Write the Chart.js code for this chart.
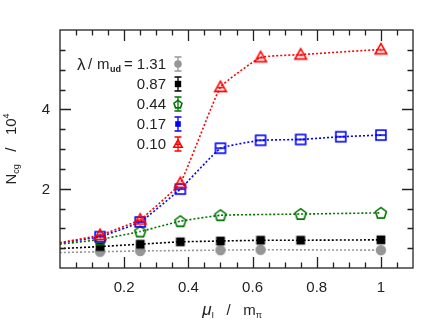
<!DOCTYPE html>
<html>
<head>
<meta charset="utf-8">
<script src="https://cdn.jsdelivr.net/npm/chart.js@4/dist/chart.umd.min.js"></script>
<style>
  body { margin: 0; background: #fff; }
  #wrap { width: 436px; height: 331px; }
</style>
</head>
<body>
<div id="wrap"><canvas id="ncgChart" width="436" height="331"></canvas></div>
<script>
// mu_I / m_pi positions and N_cg / 10^4 values, one pair of arrays per lambda
const lambdaLabels = ['1.31', '0.87', '0.44', '0.17', '0.10'];

const xRed = [0, 0.125, 0.25, 0.375, 0.5, 0.625, 0.75, 1.0];
const yRed = [0.64, 0.83, 1.22, 2.14, 4.56, 5.31, 5.38, 5.51];

const xBlue = [0, 0.125, 0.25, 0.375, 0.5, 0.625, 0.75, 0.875, 1.0];
const yBlue = [0.63, 0.79, 1.16, 1.99, 3.02, 3.22, 3.24, 3.31, 3.35];

const xGreen = [0, 0.125, 0.25, 0.375, 0.5, 0.75, 1.0];
const yGreen = [0.60, 0.72, 0.92, 1.18, 1.33, 1.36, 1.39];

const xBlack = [0, 0.125, 0.25, 0.375, 0.5, 0.625, 0.75, 1.0];
const yBlack = [0.49, 0.54, 0.60, 0.66, 0.68, 0.70, 0.70, 0.71];

const xGray = [0, 0.125, 0.25, 0.5, 0.625, 1.0];
const yGray = [0.39, 0.41, 0.43, 0.45, 0.46, 0.45];

const yTickLabels = ['2', '4'];
const xTickLabels = ['0.2', '0.4', '0.6', '0.8', '1'];

const FONT = '"Liberation Sans", Arial, sans-serif';
const INK = '#222';

function drawMarker(ctx, kind, color, x, y, s) {
    ctx.save();
    ctx.strokeStyle = color;
    ctx.fillStyle = color;
    ctx.lineWidth = 1.6;
    ctx.setLineDash([]);
    const h = s / 2;
    if (kind === 'circle') {
        ctx.beginPath();
        ctx.arc(x, y, h * 0.95, 0, Math.PI * 2);
        ctx.fill();
    } else if (kind === 'square') {
        ctx.fillRect(x - h * 0.8, y - h * 0.8, h * 1.6, h * 1.6);
    } else if (kind === 'pentagon') {
        ctx.beginPath();
        for (let k = 0; k < 5; k++) {
            const a = -Math.PI / 2 + k * 2 * Math.PI / 5;
            const px = x + Math.cos(a) * h * 1.05;
            const py = y + 0.5 + Math.sin(a) * h * 1.05;
            if (k === 0) ctx.moveTo(px, py); else ctx.lineTo(px, py);
        }
        ctx.closePath();
        ctx.stroke();
    } else if (kind === 'boxline') {
        ctx.strokeRect(x - h * 0.9, y - h * 0.9, h * 1.8, h * 1.8);
        ctx.beginPath();
        ctx.moveTo(x - h * 0.9, y);
        ctx.lineTo(x + h * 0.9, y);
        ctx.stroke();
    } else if (kind === 'bluefill') {
        ctx.fillRect(x - h * 0.7, y - h * 0.7, h * 1.4, h * 1.4);
    } else if (kind === 'triangle') {
        ctx.beginPath();
        ctx.moveTo(x, y - h * 1.05);
        ctx.lineTo(x + h * 1.05, y + h * 0.8);
        ctx.lineTo(x - h * 1.05, y + h * 0.8);
        ctx.closePath();
        ctx.stroke();
        ctx.beginPath();
        ctx.moveTo(x - h * 0.5, y + h * 0.1);
        ctx.lineTo(x + h * 0.5, y + h * 0.1);
        ctx.stroke();
    }
    ctx.restore();
}

function markerCanvas(kind, color, s) {
    const c = document.createElement('canvas');
    c.width = 16;
    c.height = 16;
    drawMarker(c.getContext('2d'), kind, color, 8, 8, s);
    return c;
}

const series = [
    { xs: xRed, ys: yRed, color: 'rgb(255,0,0)', kind: 'triangle', legendKind: 'triangle' },
    { xs: xBlue, ys: yBlue, color: 'rgb(0,0,255)', kind: 'boxline', legendKind: 'bluefill' },
    { xs: xGreen, ys: yGreen, color: 'rgb(0,115,0)', kind: 'pentagon', legendKind: 'pentagon' },
    { xs: xBlack, ys: yBlack, color: 'rgb(0,0,0)', kind: 'square', legendKind: 'square' },
    { xs: xGray, ys: yGray, color: 'rgb(150,150,150)', kind: 'circle', legendKind: 'circle' }
];

const datasets = series.map(s => ({
    data: s.xs.map((x, i) => ({ x: x, y: s.ys[i] })),
    borderColor: s.color,
    borderWidth: 1.6,
    borderDash: [2, 2],
    tension: 0.1,
    pointStyle: markerCanvas(s.kind, s.color, 11),
    pointRadius: s.xs.map(x => (x === 0 ? 0 : 5)),
    fill: false
}));

// legend rows: top to bottom is gray, black, green, blue, red
const legendOrder = [4, 3, 2, 1, 0];

const decorPlugin = {
    id: 'decor',
    afterDraw(chart) {
        const ctx = chart.ctx;
        const a = chart.chartArea;
        const xs = chart.scales.x;
        const ys = chart.scales.y;
        ctx.save();
        ctx.strokeStyle = INK;
        ctx.fillStyle = INK;
        ctx.lineWidth = 1.3;
        ctx.setLineDash([]);
        ctx.strokeRect(a.left, a.top, a.right - a.left, a.bottom - a.top);

        // y ticks every 0.5, long at even numbers
        ctx.beginPath();
        for (let i = 1; i < 12; i++) {
            const v = i * 0.5;
            const py = Math.round(ys.getPixelForValue(v)) + 0.5;
            const len = (i % 4 === 0) ? 11 : 5.5;
            ctx.moveTo(a.left, py); ctx.lineTo(a.left + len, py);
            ctx.moveTo(a.right, py); ctx.lineTo(a.right - len, py);
        }
        // x ticks every 0.05, long at multiples of 0.2
        for (let i = 1; i < 22; i++) {
            const v = i * 0.05;
            const px = Math.round(xs.getPixelForValue(v)) + 0.5;
            const len = (i % 4 === 0) ? 11 : 5.5;
            ctx.moveTo(px, a.bottom); ctx.lineTo(px, a.bottom - len);
            ctx.moveTo(px, a.top); ctx.lineTo(px, a.top + len);
        }
        ctx.stroke();

        ctx.font = '15px ' + FONT;
        ctx.textAlign = 'right';
        ctx.textBaseline = 'middle';
        yTickLabels.forEach(t => {
            ctx.fillText(t, a.left - 10, ys.getPixelForValue(parseFloat(t)) + 1);
        });
        ctx.textAlign = 'center';
        ctx.textBaseline = 'alphabetic';
        xTickLabels.forEach(t => {
            ctx.fillText(t, xs.getPixelForValue(parseFloat(t)), 292);
        });

        // x title: mu_I / m_pi
        const big = '15px ' + FONT;
        const small = '9px ' + FONT;
        const parts = [
            { t: 'μ', f: 'italic 17px ' + FONT, dy: 0 },
            { t: 'I', f: small, dy: 3 },
            { t: '   /   ', f: big, dy: 0 },
            { t: 'm', f: big, dy: 0 },
            { t: 'π', f: small, dy: 3 }
        ];
        drawParts(ctx, parts, 232, 315);

        // y title: N_cg / 10^4, rotated
        ctx.save();
        ctx.translate(16, (a.top + a.bottom) / 2);
        ctx.rotate(-Math.PI / 2);
        const yparts = [
            { t: 'N', f: big, dy: 0 },
            { t: 'cg', f: small, dy: 3 },
            { t: '   /   10', f: big, dy: 0 },
            { t: '4', f: small, dy: -7 }
        ];
        drawParts(ctx, yparts, 0, 0);
        ctx.restore();

        // legend
        const numRight = 166;
        const markX = 178;
        legendOrder.forEach((si, row) => {
            const cy = 64 + row * 20;
            const s = series[si];
            ctx.font = big;
            ctx.textAlign = 'right';
            ctx.textBaseline = 'middle';
            ctx.fillStyle = INK;
            const label = lambdaLabels[row];
            ctx.fillText(label, numRight, cy + 1);
            if (row === 0) {
                ctx.textAlign = 'left';
                ctx.font = '17px ' + FONT;
                ctx.fillText('λ', 77, cy + 1);
                ctx.font = big;
                ctx.fillText('/', 88, cy + 1);
                ctx.fillText('m', 97, cy + 1);
                ctx.font = 'bold 9px ' + FONT;
                ctx.fillText('ud', 110, cy + 6);
                ctx.font = big;
                ctx.fillText('=', 124, cy + 1);
            }
            // error bar glyph
            ctx.strokeStyle = s.color;
            ctx.lineWidth = 1.3;
            ctx.beginPath();
            ctx.moveTo(markX, cy - 7); ctx.lineTo(markX, cy + 7);
            ctx.moveTo(markX - 3.5, cy - 7); ctx.lineTo(markX + 3.5, cy - 7);
            ctx.moveTo(markX - 3.5, cy + 7); ctx.lineTo(markX + 3.5, cy + 7);
            ctx.stroke();
            drawMarker(ctx, s.legendKind, s.color, markX, cy, 8);
        });
        ctx.restore();
    }
};

function drawParts(ctx, parts, cx, baseY) {
    ctx.textAlign = 'left';
    ctx.textBaseline = 'alphabetic';
    let total = 0;
    parts.forEach(p => { ctx.font = p.f; total += ctx.measureText(p.t).width; });
    let x = cx - total / 2;
    parts.forEach(p => {
        ctx.font = p.f;
        ctx.fillText(p.t, x, baseY + p.dy);
        x += ctx.measureText(p.t).width;
    });
}

new Chart(document.getElementById('ncgChart').getContext('2d'), {
    type: 'line',
    data: { datasets: datasets },
    options: {
        responsive: false,
        animation: false,
        layout: { padding: { left: 60, right: 23, top: 30, bottom: 63 } },
        plugins: { legend: { display: false }, tooltip: { enabled: false } },
        scales: {
            x: { type: 'linear', min: 0, max: 1.1, display: false },
            y: { type: 'linear', min: 0, max: 6, display: false }
        }
    },
    plugins: [decorPlugin]
});
</script>
</body>
</html>
